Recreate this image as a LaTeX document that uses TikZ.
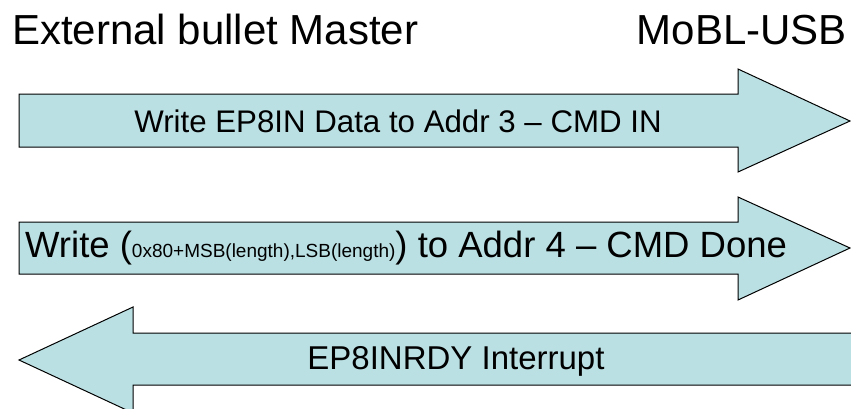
\documentclass[tikz,border=0pt]{standalone}
\usepackage{fontspec}
\setmainfont{Liberation Sans}
\usetikzlibrary{positioning}

\definecolor{arrowfill}{RGB}{187,224,227}
\tikzset{
  blockarrow/.style={draw=black, line width=1pt, fill=arrowfill, line join=miter},
  headlabel/.style={inner sep=0pt, font=\fontsize{42}{42}\selectfont},
  arrowlabel/.style={inner sep=0pt, font=\fontsize{31.25}{31.25}\selectfont}
}
\newcommand{\smalltxt}[1]{{\fontsize{19}{19}\selectfont #1}}

\begin{document}
\begin{tikzpicture}[x=1pt,y=-1pt]
\useasboundingbox (0,0) rectangle (851,408);
% sides
\node[headlabel, anchor=base west] (master) at (12,44) {External bullet Master};
\node[headlabel, anchor=base east] (mobl) at (847,44) {MoBL-USB};
% master -> mobl
\draw[blockarrow] (19,94) -- (738,94) -- (738,69) -- (850,121)
  -- (738,172) -- (738,147) -- (19,147) -- cycle;
\node[arrowlabel] (cmdin) at (398,121) {Write EP8IN Data to Addr 3 -- CMD IN};
\draw[blockarrow] (19,222) -- (738,222) -- (738,197) -- (850,248)
  -- (738,300) -- (738,274) -- (19,274) -- cycle;
\node[arrowlabel, font=\fontsize{36.5}{36.5}\selectfont, anchor=west] (cmddone) at (25,248)
  {Write (\smalltxt{0x80+MSB(length),LSB(length)}) to Addr 4 -- CMD Done};
% mobl -> master
\draw[blockarrow] (870,333) -- (133,333) -- (133,307) -- (19,360)
  -- (133,413) -- (133,385) -- (870,385);
\node[arrowlabel, font=\fontsize{33}{33}\selectfont] (irq) at (456,361) {EP8INRDY Interrupt};
\end{tikzpicture}
\end{document}
